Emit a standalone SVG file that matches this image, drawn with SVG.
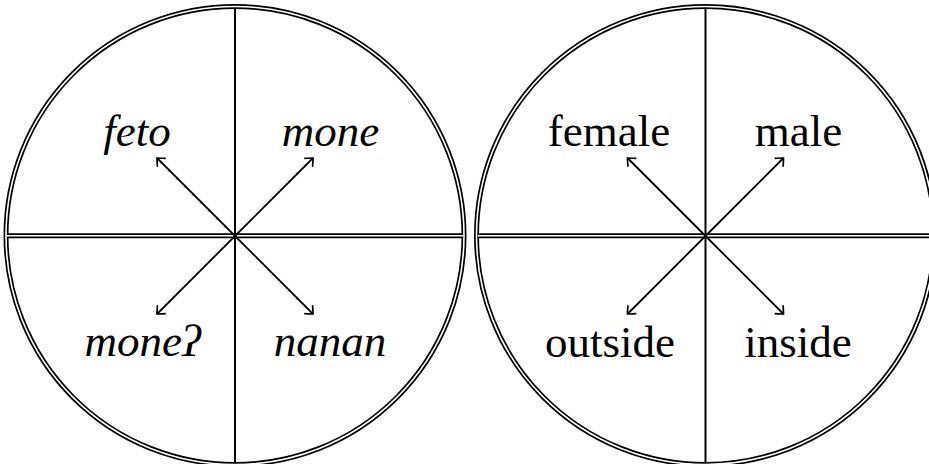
<svg xmlns="http://www.w3.org/2000/svg" width="929" height="464" viewBox="0 0 929 464">
<style>
.dbl-o{fill:none;stroke:#000;stroke-width:5}
.dbl-i{fill:none;stroke:#fff;stroke-width:1.6}
.div{stroke:#000;stroke-width:2}
.arr{stroke:#000;stroke-width:1.8;fill:none;marker-end:url(#ah)}
.lbl{font-family:"Liberation Serif","DejaVu Serif",serif;font-size:45px;fill:#000;text-anchor:middle}
.it{font-style:italic}
</style>
<defs>
<marker id="ah" viewBox="-10 -7 12 14" markerWidth="12" markerHeight="14" refX="0" refY="0" orient="auto" markerUnits="userSpaceOnUse">
<path d="M-6,-5.5 Q-1.3,-1.3 0,0 Q-1.3,1.3 -6,5.5" fill="none" stroke="#000" stroke-width="1.7" stroke-linecap="round"/>
</marker>
</defs>
<rect width="929" height="464" fill="#fff"/>
<g id="circle-left">
<circle cx="235" cy="235.5" r="229" class="dbl-o"/>
<circle cx="235" cy="235.5" r="229" class="dbl-i"/>
<line x1="7" y1="235.8" x2="463" y2="235.8" class="dbl-o"/>
<line x1="7" y1="235.8" x2="463" y2="235.8" class="dbl-i"/>
<line x1="235" y1="8" x2="235" y2="463" class="div"/>
</g>
<g id="circle-right">
<circle cx="705.5" cy="235.5" r="229" class="dbl-o"/>
<circle cx="705.5" cy="235.5" r="229" class="dbl-i"/>
<line x1="477.5" y1="235.8" x2="929" y2="235.8" class="dbl-o"/>
<line x1="477.5" y1="235.8" x2="929" y2="235.8" class="dbl-i"/>
<line x1="705.5" y1="8" x2="705.5" y2="463" class="div"/>
</g>
<g id="connectors">
<line x1="235" y1="236" x2="157" y2="158" class="arr"/>
<line x1="235" y1="236" x2="313" y2="158" class="arr"/>
<line x1="235" y1="236" x2="157" y2="314" class="arr"/>
<line x1="235" y1="236" x2="313" y2="314" class="arr"/>
<line x1="705.5" y1="236" x2="627.5" y2="158" class="arr"/>
<line x1="705.5" y1="236" x2="783.5" y2="158" class="arr"/>
<line x1="705.5" y1="236" x2="627.5" y2="314" class="arr"/>
<line x1="705.5" y1="236" x2="783.5" y2="314" class="arr"/>
</g>
<g id="label-feto"><text x="137" y="146" class="lbl it">feto</text></g>
<g id="label-mone"><text x="330.5" y="146" class="lbl it">mone</text></g>
<g id="label-mone-q"><text x="142.5" y="356" class="lbl it">moneʔ</text></g>
<g id="label-nanan"><text x="330" y="356" class="lbl it">nanan</text></g>
<g id="label-female"><text x="609" y="146" class="lbl">female</text></g>
<g id="label-male"><text x="798.5" y="146" class="lbl">male</text></g>
<g id="label-outside"><text x="610" y="357" class="lbl">outside</text></g>
<g id="label-inside"><text x="798" y="357" class="lbl">inside</text></g>
</svg>
